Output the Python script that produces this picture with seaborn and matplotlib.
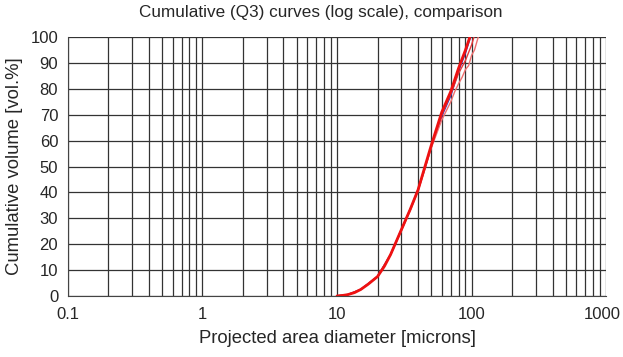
import pandas as pd
import matplotlib.pyplot as plt
import seaborn as sns
from matplotlib.ticker import LogLocator, FixedLocator, NullFormatter
from matplotlib.transforms import ScaledTranslation

# Diameters [microns] and cumulative volume [vol.%] for each curve
d_main = [10, 11, 12, 13.5, 15, 17, 20, 22.5, 25, 30, 35, 40, 45, 50, 60, 70, 80, 90, 97]
q_main = [0, 0.2, 0.5, 1.3, 2.5, 4.5, 7.5, 11.5, 16, 25.5, 33.5, 41, 50, 58, 71, 79, 88, 95, 100]

d_blue = [10, 12, 15, 20, 25, 30, 35, 40, 45, 50, 60, 70, 80, 90, 98]
q_blue = [0, 0.5, 2.5, 7.5, 16, 25.5, 33.5, 41, 49.5, 57.5, 69.5, 77.5, 87, 94, 100]

d_thin1 = [10, 12, 15, 20, 25, 30, 35, 40, 45, 50, 60, 70, 75, 80, 85, 90, 95, 100, 105, 112]
q_thin1 = [0, 0.5, 2.5, 7.5, 16, 25, 33, 40.5, 49, 57, 68, 75, 79, 82, 84.5, 87.5, 89, 93, 95, 100]

d_thin2 = [10, 12, 15, 20, 25, 30, 35, 40, 45, 50, 60, 70, 80, 90, 100, 104]
q_thin2 = [0, 0.5, 2.5, 7.5, 16, 25.5, 33.5, 41, 49.5, 57.5, 70, 78, 86, 91, 97, 100]

y_ticks = list(range(0, 101, 10))
x_ticks = [0.1, 1, 10, 100, 1000]
x_labels = ["0.1", "1", "10", "100", "1000"]

sns.set_style("white")
plt.rcParams['font.family'] = ['Liberation Sans', 'DejaVu Sans']

fig = plt.figure(figsize=(6.23, 3.57), dpi=100)
ax = fig.add_axes([0.109, 0.171, 0.864, 0.725])

sns.lineplot(x=d_blue, y=q_blue, color='#3030c0', linewidth=1.2, ax=ax, sort=False)
sns.lineplot(x=d_thin1, y=q_thin1, color='#f07070', linewidth=1.0, ax=ax, sort=False)
sns.lineplot(x=d_thin2, y=q_thin2, color='#e83a3a', linewidth=1.0, ax=ax, sort=False)
sns.lineplot(x=d_main, y=q_main, color='#ee1111', linewidth=2.0, ax=ax, sort=False)

ax.set_xscale('log')
ax.set_xlim(0.1, 1000)
ax.set_ylim(0, 100)
ax.xaxis.set_major_locator(FixedLocator(x_ticks))
ax.set_xticklabels(x_labels)
ax.xaxis.set_minor_locator(LogLocator(base=10, subs=range(2, 10), numticks=20))
ax.xaxis.set_minor_formatter(NullFormatter())
ax.set_yticks(y_ticks)

ax.grid(True, which='both', axis='x', color='#333333', linewidth=0.9)
ax.grid(True, which='major', axis='y', color='#333333', linewidth=0.9)
ax.set_axisbelow(True)
for s in ['top', 'right']:
    ax.spines[s].set_visible(False)
for s in ['left', 'bottom']:
    ax.spines[s].set_color('#444444')
ax.tick_params(axis='both', which='major', direction='out', length=5, color='#444444',
               labelsize=12, pad=2)
ax.tick_params(axis='x', which='minor', length=0)
ax.tick_params(axis='x', which='major', pad=3)

# keep the last tick label inside the figure
last = ax.get_xticklabels()[-1]
last.set_transform(last.get_transform() + ScaledTranslation(-3 / 72, 0, fig.dpi_scale_trans))

fig.suptitle('Cumulative (Q3) curves (log scale), comparison', x=0.515, y=0.985,
             va='top', fontsize=12.3)
ax.set_xlabel('Projected area diameter [microns]', fontsize=13.3, labelpad=6)
ax.set_ylabel('Cumulative volume [vol.%]', fontsize=13.3, labelpad=5)

fig.savefig('out.png', dpi=100, facecolor='white')
